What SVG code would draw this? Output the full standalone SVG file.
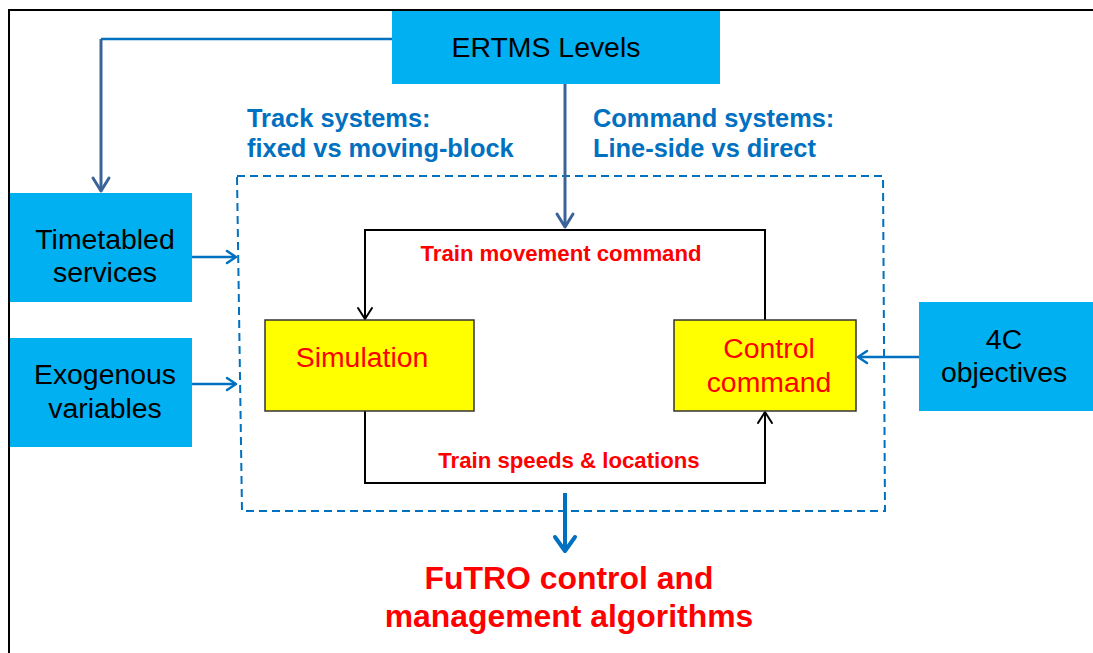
<svg xmlns="http://www.w3.org/2000/svg" width="1093" height="653" viewBox="0 0 1093 653">
  <defs>
    <style>
      .cyan { fill: #00b0f0; }
      .yel { fill: #ffff00; stroke: #333333; stroke-width: 1.5; }
      .lbl { font-family: "Liberation Sans", Arial, sans-serif; font-size: 28.4px; fill: #000000; text-anchor: middle; }
      .red { fill: #ff0000; }
      .note { font-family: "Liberation Sans", Arial, sans-serif; font-size: 25.4px; font-weight: bold; fill: #0070c0; }
      .flow { font-family: "Liberation Sans", Arial, sans-serif; font-size: 22.2px; font-weight: bold; fill: #ff0000; text-anchor: middle; }
      .title { font-family: "Liberation Sans", Arial, sans-serif; font-size: 31.9px; font-weight: bold; fill: #ff0000; text-anchor: middle; }
      .loop { fill: none; stroke: #000000; stroke-width: 2; }
      .blue { fill: none; stroke: #0070c0; stroke-width: 2.5; }
      .slate { fill: none; stroke: #3c6399; stroke-width: 3; }
      .head { fill: none; stroke-linecap: round; stroke-linejoin: round; }
    </style>
  </defs>

  <rect width="1093" height="653" fill="#ffffff"/>
  <!-- outer frame -->
  <path d="M9,653 V10 H1093" fill="none" stroke="#000000" stroke-width="2"/>

  <!-- system boundary -->
  <polygon points="237,176 883,176 885,511 242,511" fill="none" stroke="#0070c0" stroke-width="2" stroke-dasharray="8 5"/>

  <g id="connectors">
    <!-- ERTMS to timetabled services -->
    <path class="blue" d="M392,39 H101"/>
    <path class="slate" d="M101,39 V191"/>
    <path class="slate head" d="M93,178 L101,191 L109,178"/>
    <!-- ERTMS into the loop -->
    <path class="slate" d="M565,84 V227"/>
    <path class="slate head" d="M557,214 L565,227 L573,214"/>
    <!-- inputs to the boundary -->
    <path class="blue" d="M192,257 H235"/>
    <path class="blue head" d="M227,251 L236,257 L227,263"/>
    <path class="blue" d="M192,384 H235"/>
    <path class="blue head" d="M227,378 L236,384 L227,390"/>
    <path class="blue" d="M919,357 H859"/>
    <path class="blue head" d="M867,351 L858,357 L867,363"/>
    <!-- control loop -->
    <path class="loop" d="M765,320 V230 H365 V318"/>
    <path class="loop head" d="M358,308 L365,319 L372,308"/>
    <path class="loop" d="M365,411 V483 H765 V413"/>
    <path class="loop head" d="M758,423 L765,412 L772,423"/>
    <!-- output arrow -->
    <path d="M565,493 V551" fill="none" stroke="#0070c0" stroke-width="4"/>
    <path d="M555,537 L565,551 L575,537" fill="none" stroke="#0070c0" stroke-width="4" stroke-linecap="round" stroke-linejoin="round"/>
  </g>

  <g id="ertms">
    <rect class="cyan" x="392" y="11" width="328" height="73"/>
    <text class="lbl" x="546" y="57">ERTMS Levels</text>
  </g>

  <g id="timetabled">
    <rect class="cyan" x="10" y="193" width="182" height="109"/>
    <text class="lbl" x="105" y="249">Timetabled</text>
    <text class="lbl" x="105" y="282">services</text>
  </g>

  <g id="exogenous">
    <rect class="cyan" x="10" y="338" width="182" height="109"/>
    <text class="lbl" x="105" y="384">Exogenous</text>
    <text class="lbl" x="105" y="418">variables</text>
  </g>

  <g id="objectives">
    <rect class="cyan" x="919" y="302" width="174" height="109"/>
    <text class="lbl" x="1004" y="349">4C</text>
    <text class="lbl" x="1004" y="382">objectives</text>
  </g>

  <g id="simulation">
    <rect class="yel" x="265" y="320" width="209" height="91"/>
    <text class="lbl red" x="362" y="367">Simulation</text>
  </g>

  <g id="control">
    <rect class="yel" x="674" y="320" width="182" height="91"/>
    <text class="lbl red" x="769" y="358">Control</text>
    <text class="lbl red" x="769" y="392">command</text>
  </g>

  <g id="labels">
    <text class="note" x="247" y="127">Track systems:</text>
    <text class="note" x="247" y="157">fixed vs moving-block</text>
    <text class="note" x="593" y="127">Command systems:</text>
    <text class="note" x="593" y="157">Line-side vs direct</text>
    <text class="flow" x="561" y="261">Train movement command</text>
    <text class="flow" x="569" y="468">Train speeds &amp; locations</text>
  </g>

  <g id="futro">
    <text class="title" x="569" y="589">FuTRO control and</text>
    <text class="title" x="569" y="627">management algorithms</text>
  </g>
</svg>
